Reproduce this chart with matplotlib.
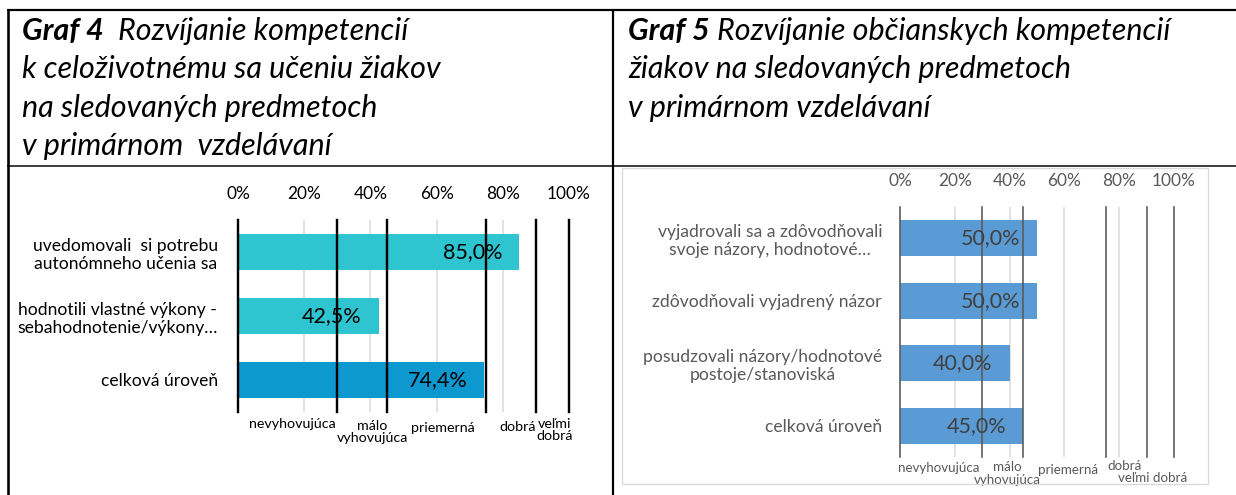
import matplotlib
matplotlib.use("Agg")
import matplotlib.pyplot as plt
from matplotlib.lines import Line2D
from matplotlib.patches import Rectangle
from matplotlib.transforms import blended_transform_factory

plt.rcParams['font.family'] = ['Lato', 'DejaVu Sans']

# ---------------- data ----------------
g4_categories = ["uvedomovali  si potrebu\nautonómneho učenia sa",
                 "hodnotili vlastné výkony -\nsebahodnotenie/výkony…",
                 "celková úroveň"]
g4_values = [85.0, 42.5, 74.4]

g5_categories = ["vyjadrovali sa a zdôvodňovali\nsvoje názory, hodnotové…",
                 "zdôvodňovali vyjadrený názor",
                 "posudzovali názory/hodnotové\npostoje/stanoviská",
                 "celková úroveň"]
g5_values = [50.0, 50.0, 40.0, 45.0]

tick_values = [0, 20, 40, 60, 80, 100]
tick_labels = ["0%", "20%", "40%", "60%", "80%", "100%"]
thresholds = [0, 30, 45, 75, 90, 100]
g4_rating_labels = ["nevyhovujúca", "málo\nvyhovujúca", "priemerná", "dobrá", "veľmi\ndobrá"]
g5_rating_labels = ["nevyhovujúca", "málo\nvyhovujúca", "priemerná", "dobrá", "veľmi dobrá"]

title4_bold = "Graf 4"
title4_lines = ["Rozvíjanie kompetencií", "k celoživotnému sa učeniu žiakov",
                "na sledovaných predmetoch", "v primárnom  vzdelávaní"]
title5_bold = "Graf 5"
title5_lines = ["Rozvíjanie občianskych kompetencií", "žiakov na sledovaných predmetoch",
                "v primárnom vzdelávaní"]

# ---------------- layout ----------------
W, H = 1236, 495
DPI = 100
fig = plt.figure(figsize=(W / DPI, H / DPI), dpi=DPI)
PT = 72.0 / DPI  # points per pixel


def fx(x):
    return x / W


def fy(y):
    return 1 - y / H


def px_axes(l, t, r, b):
    return fig.add_axes([l / W, 1 - b / H, (r - l) / W, (b - t) / H])


# table borders
def hline(y, x0, x1, lw):
    fig.add_artist(Line2D([fx(x0), fx(x1)], [fy(y), fy(y)], color='black', lw=lw * PT,
                          transform=fig.transFigure, solid_capstyle='butt'))


def vline(x, y0, y1, lw):
    fig.add_artist(Line2D([fx(x), fx(x)], [fy(y0), fy(y1)], color='black', lw=lw * PT,
                          transform=fig.transFigure, solid_capstyle='butt'))


hline(10, 7, W, 2.2)
vline(8, 9, H, 2.6)
vline(613, 9, H, 2.2)
hline(166, 7, W, 1.5)

# right chart frame
fig.add_artist(Rectangle((fx(622), fy(484)), fx(1208) - fx(622), fy(168) - fy(484),
                         fill=False, edgecolor='#D9D9D9', lw=1.3 * PT, transform=fig.transFigure))


# titles
def draw_title(x0, baselines, bold, lines, fs, gap_px):
    r = fig.canvas.get_renderer()
    t = fig.text(fx(x0), fy(baselines[0]), bold, fontsize=fs, fontweight='bold',
                 fontstyle='italic', va='baseline', ha='left')
    bb = t.get_window_extent(renderer=r)
    fig.text(fx(bb.x1 + gap_px), fy(baselines[0]), lines[0], fontsize=fs,
             fontstyle='italic', va='baseline', ha='left')
    for ln, yb in zip(lines[1:], baselines[1:]):
        fig.text(fx(x0), fy(yb), ln, fontsize=fs, fontstyle='italic', va='baseline', ha='left')


draw_title(22, [40, 78, 117, 155], title4_bold, title4_lines, 22, 14)
draw_title(628, [40, 78, 117], title5_bold, title5_lines, 22, 7)


def draw_chart(box, cats, vals, colors, text_color, tick_color, label_color, line_color,
               line_lw, bar_h, cat_fs, tick_fs, val_fs, rate_fs, rating_labels,
               rate_dx, rate_dy, cat_pad_px):
    ax = px_axes(*box)
    n = len(cats)
    ypos = list(range(n))
    # gridlines
    for v in tick_values:
        ax.axvline(v, color='#D9D9D9', lw=1.5 * PT, zorder=0)
    ax.barh(ypos, vals, height=bar_h, color=colors, zorder=2)
    for t in thresholds:
        ax.axvline(t, color=line_color, lw=line_lw * PT, zorder=4, clip_on=False)
    ax.set_xlim(0, 100)
    ax.set_ylim(n - 0.5, -0.5)
    for s in ax.spines.values():
        s.set_visible(False)
    ax.xaxis.tick_top()
    ax.set_xticks(tick_values)
    ax.set_xticklabels(tick_labels, fontsize=tick_fs, color=tick_color)
    ax.set_yticks(ypos)
    ax.set_yticklabels(cats, fontsize=cat_fs, color=label_color)
    for lab in ax.get_yticklabels():
        lab.set_multialignment('center')
    ax.tick_params(axis='x', length=0, pad=18 * PT)
    ax.tick_params(axis='y', length=0, pad=cat_pad_px * PT)
    ax.patch.set_alpha(0)
    for i, v in enumerate(vals):
        ax.annotate(f"{v:.1f}%".replace('.', ','), xy=(v, i), xytext=(-17 * PT, 0),
                    textcoords='offset points', ha='right', va='center',
                    fontsize=val_fs, color=text_color, zorder=5)
    tr = blended_transform_factory(ax.transData, ax.transAxes)
    for k, lab in enumerate(rating_labels):
        xm = (thresholds[k] + thresholds[k + 1]) / 2
        ax.annotate(lab, xy=(xm, 0), xycoords=tr, xytext=(rate_dx[k] * PT, -rate_dy[k] * PT),
                    textcoords='offset points', ha='center', va='center',
                    multialignment='center', fontsize=rate_fs, color=label_color,
                    annotation_clip=False, linespacing=1.05)
    return ax


draw_chart((238, 220, 569, 412), g4_categories, g4_values,
           ['#2EC4D0', '#2EC4D0', '#0D98D0'], 'black', 'black', 'black', 'black',
           2.4, 0.55, 12.6, 12.4, 15.5, 10.3, g4_rating_labels,
           [5, 10, 6, 7, 2], [12, 20, 16, 15, 18], 20)

draw_chart((900, 207, 1174, 457), g5_categories, g5_values,
           ['#5B9BD5'] * 4, '#404040', '#595959', '#595959', '#595959',
           1.6, 0.576, 12.6, 12.4, 15.5, 9.6, g5_rating_labels,
           [-2, 5, 4, -1, -8], [10.5, 16.5, 13, 9, 21], 18)

fig.savefig('out.png', dpi=DPI)
